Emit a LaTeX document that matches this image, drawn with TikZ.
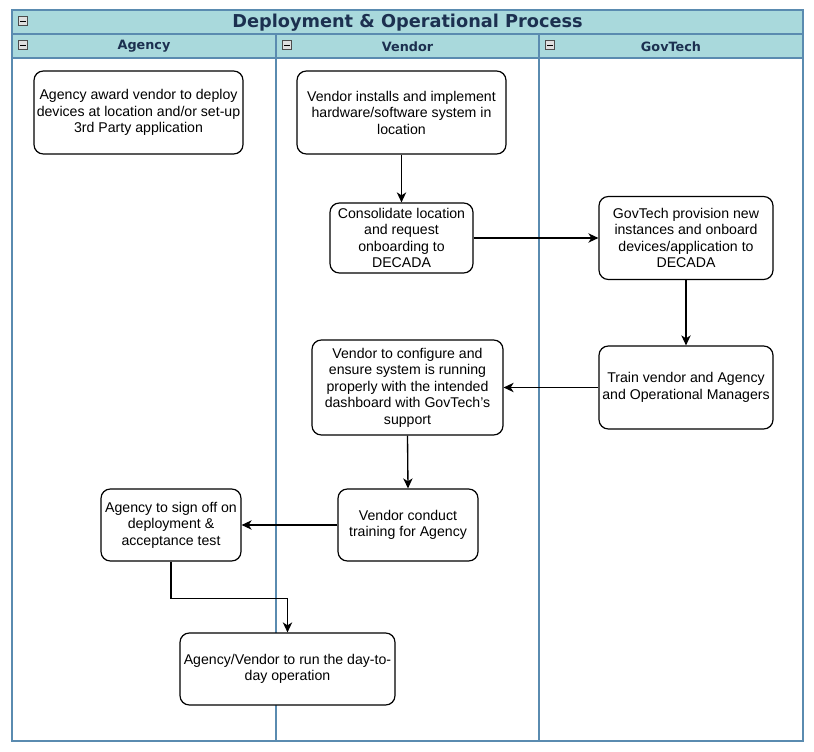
\documentclass[tikz,border=0pt]{standalone}
\usepackage{fontspec}
\setmainfont{Liberation Sans}
\newfontfamily\hdrfont{DejaVu Sans}
\usetikzlibrary{arrows.meta}
\definecolor{hdrfill}{HTML}{A9D9DC}
\definecolor{lanestroke}{HTML}{5A8BB0}
\definecolor{hdrtext}{HTML}{1C3050}
\begin{document}
\begin{tikzpicture}[x=0.75pt,y=-0.75pt,
  box/.style={draw=black, line width=0.9pt, rounded corners=7pt, fill=white, align=center, inner sep=0pt,
    font=\fontsize{10.6}{12.4}\selectfont},
  flow/.style={draw=black, line width=1pt, -{Stealth[length=7.5pt,width=7pt,inset=2.2pt]}},
  lane/.style={draw=lanestroke, line width=0.8pt},
  hdr/.style={draw=lanestroke, line width=0.8pt, fill=hdrfill},
  icon/.style={draw=gray!60!black, line width=0.4pt, fill=gray!25, minimum size=6.5pt, inner sep=0pt}
]
\useasboundingbox (0,0) rectangle (814,752);
% pool
\fill[white] (0,0) rectangle (814,752);
\path[hdr] (12,10) rectangle (803,34);
\path[hdr] (12,34) rectangle (803,58);
\draw[lane] (12,10) rectangle (803,741);
\draw[lane] (276,34) -- (276,741);
\draw[lane] (539,34) -- (539,741);
\node[font=\hdrfont\bfseries\fontsize{13.3}{14}\selectfont, text=hdrtext] (title) at (407.5,22.5) {Deployment \& Operational Process};
\node[font=\hdrfont\bfseries\fontsize{9.6}{11}\selectfont, text=hdrtext] (h1) at (144,46.5) {Agency};
\node[font=\hdrfont\bfseries\fontsize{9.6}{11}\selectfont, text=hdrtext] (h2) at (407.5,46.5) {Vendor};
\node[font=\hdrfont\bfseries\fontsize{9.6}{11}\selectfont, text=hdrtext] (h3) at (671,46.5) {GovTech};
% collapse icons
\foreach \nm/\ix/\iy in {i0/23/21, i1/23/45, i2/287/45, i3/550/45}{
  \node[icon] (\nm) at (\ix,\iy) {};
  \draw[black, line width=0.6pt] ([xshift=1.3pt]\nm.west) -- ([xshift=-1.3pt]\nm.east);
}
% nodes
\node[box, minimum width=156.75pt, minimum height=62.25pt] (n1) at (138.5,112.5) {Agency award vendor to deploy\\devices at location and/or set-up\\3rd Party application};
\node[box, minimum width=156.75pt, minimum height=62.25pt] (n2) at (401.5,112.5) {Vendor installs and implement\\hardware/software system in\\location};
\node[box, minimum width=107.25pt, minimum height=52.5pt] (n3) at (401.5,238) {Consolidate location\\and request\\onboarding to\\DECADA};
\node[box, minimum width=130.5pt, minimum height=62.25pt] (n4) at (686,238) {GovTech provision new\\instances and onboard\\devices/application to\\DECADA};
\node[box, minimum width=130.5pt, minimum height=62.25pt] (n5) at (686,387.5) {Train vendor and Agency\\and Operational Managers};
\node[box, minimum width=143.25pt, minimum height=71.25pt] (n6) at (407.5,387.5) {Vendor to configure and\\ensure system is running\\properly with the intended\\dashboard with GovTech's\\support};
\node[box, minimum width=105pt, minimum height=54pt] (n7) at (408,525) {Vendor conduct\\training for Agency};
\node[box, minimum width=105pt, minimum height=54pt] (n8) at (171,525) {Agency to sign off on\\deployment \&\\acceptance test};
\node[box, minimum width=161.25pt, minimum height=54pt] (n9) at (287.5,669) {Agency/Vendor to run the day-to-\\day operation};
% connectors
\draw[flow] (n2.south) -- (n3.north);
\draw[flow] (n3.east) -- (n4.west);
\draw[flow] (n4.south) -- (n5.north);
\draw[flow] (n5.west) -- (n6.east);
\draw[flow] (n6.south) -- (n7.north);
\draw[flow] (n7.west) -- (n8.east);
\draw[flow] (n8.south) -- ++(0,37) -| (n9.north);
\end{tikzpicture}
\end{document}
